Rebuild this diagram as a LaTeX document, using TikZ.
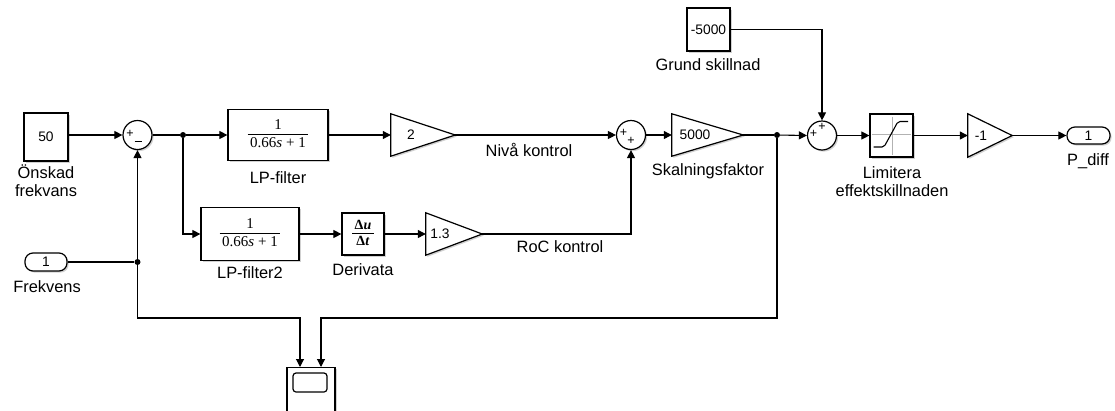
\documentclass[tikz,border=0pt]{standalone}
\usepackage{fontspec}
\setmainfont{Liberation Sans}
\newfontfamily\serf{Liberation Serif}
\usetikzlibrary{arrows.meta,shadows}
\newcommand{\tffrac}[2]{{\serf\fontsize{15}{17}\selectfont\begin{tabular}{@{\,}c@{\,}}#1\\[-1pt]\hline\rule{0pt}{13pt}#2\end{tabular}}}
\begin{document}
\begin{tikzpicture}[x=1pt,y=-1pt,
  shad/.style={drop shadow={shadow xshift=1.6pt,shadow yshift=-1.6pt,opacity=0.3,fill=black!60}},
  blk/.style={draw,line width=1.2pt,fill=white,shad,inner sep=0pt,font=\fontsize{13.8}{15}\selectfont},
  gainbox/.style={draw=none,inner sep=0pt,minimum width=#1},
  gtxt/.style={inner sep=0pt,font=\fontsize{13.8}{15}\selectfont},
  lbl/.style={font=\fontsize{16.4}{18.5}\selectfont,align=center,inner sep=0pt},
  sumc/.style={draw,circle,line width=1.2pt,fill=white,shad,minimum size=29pt,inner sep=0pt},
  sgn/.style={inner sep=0pt,font=\fontsize{12.5}{12}\selectfont},
  wire/.style={line width=1.1pt},
  arr/.style={wire,-{Triangle[length=8pt,width=8pt]}},
  dot/.style={circle,fill,inner sep=0pt,minimum size=6pt},
  port/.style={draw,line width=1.2pt,fill=white,shad,rounded corners=8pt,inner sep=0pt,font=\fontsize{13.8}{15}\selectfont}]
\useasboundingbox (0,0) rectangle (1115,410);

% ---------- blocks ----------
\node[blk,minimum width=44pt,minimum height=48pt] (c50) at (46,137) {50};
\node[lbl] (lc50) at (46,180.5) {Önskad\\frekvans};

\node[sumc] (s1) at (137.5,135) {};
\node[sgn] (s1p) at (130,134) {+};
\draw[line width=1pt] (s1.center) ++(-3,6.5) -- ++(7,0);

\node[dot] (j1) at (183,135) {};

\node[blk,minimum width=100pt,minimum height=51pt] (lp1) at (278,135) {\tffrac{1}{0.66\textit{s} + 1}};
\node[lbl] (llp1) at (278,178) {LP-filter};

\node[gainbox=64pt,minimum height=42pt] (g2) at (423,135) {};
\draw[blk] (g2.north west) -- (g2.east) -- (g2.south west) -- cycle;
\node[gtxt] (g2t) at (411,135) {2};
\node[lbl] (lniva) at (529,150) {Nivå kontrol};

\node[sumc] (s2) at (631,135) {};
\node[sgn] (s2p1) at (623.5,132.5) {+};
\node[sgn] (s2p2) at (631,140.5) {+};

\node[gainbox=71pt,minimum height=42pt] (g5k) at (707.5,135) {};
\draw[blk] (g5k.north west) -- (g5k.east) -- (g5k.south west) -- cycle;
\node[gtxt] (g5kt) at (695,135) {5000};
\node[lbl] (lskal) at (708,171) {Skalningsfaktor};

\node[dot] (j2) at (777,135) {};

\node[blk,minimum width=43pt,minimum height=43pt] (cg) at (708.5,29.5) {-5000};
\node[lbl] (lcg) at (708,65) {Grund skillnad};

\node[sumc] (s3) at (822,135.5) {};
\node[sgn] (s3p1) at (813.5,133.5) {+};
\node[sgn] (s3p2) at (822,127) {+};

\node[blk,minimum width=43pt,minimum height=43pt] (sat) at (891.5,135.5) {};
\draw[black!30,line width=0.9pt] (872,134) -- (911,134);
\draw[black!30,line width=0.9pt] (892,116.5) -- (892,154.5);
\draw[line width=1.1pt,rounded corners=2pt] (873.5,147) -- (884,147) -- (898,121.5) -- (908,121.5);
\node[lbl] (lsat) at (892,181.5) {Limitera\\effektskillnaden};

\node[gainbox=44pt,minimum height=43pt] (gm1) at (990,135.5) {};
\draw[blk] (gm1.north west) -- (gm1.east) -- (gm1.south west) -- cycle;
\node[gtxt] (gm1t) at (981,135.5) {-1};

\node[port,minimum width=43pt,minimum height=17pt] (out) at (1088.5,135.5) {1};
\node[lbl] (lout) at (1088,161) {P\_diff};

\node[blk,minimum width=98pt,minimum height=53pt] (lp2) at (250,234) {\tffrac{1}{0.66\textit{s} + 1}};
\node[lbl] (llp2) at (250,273) {LP-filter2};

\node[blk,minimum width=42pt,minimum height=42pt] (der) at (363,234) {{\serf\bfseries\fontsize{14}{16}\selectfont\begin{tabular}{@{\,}c@{\,}}Δ\textit{u}\\[-1pt]\hline\rule{0pt}{12pt}Δ\textit{t}\end{tabular}}};
\node[lbl] (lder) at (363,270) {Derivata};

\node[gainbox=56pt,minimum height=42pt] (g13) at (454,234) {};
\draw[blk] (g13.north west) -- (g13.east) -- (g13.south west) -- cycle;
\node[gtxt] (g13t) at (440,234) {1.3};
\node[lbl] (lroc) at (560,247) {RoC kontrol};

\node[port,minimum width=42pt,minimum height=18pt] (in1) at (46,262) {1};
\node[lbl] (lin1) at (47,287) {Frekvens};

\node[dot] (j3) at (137.5,262) {};

\node[blk,minimum width=48pt,minimum height=50pt,anchor=north] (scope) at (311,367) {};
\node[draw,line width=1.2pt,rounded corners=3pt,minimum width=34pt,minimum height=19pt,inner sep=0pt] (scr) at (310,382.5) {};

% ---------- connectors ----------
\draw[arr] (c50.east |- s1.west) -- (s1.west);
\draw[wire] (s1.east) -- (j1);
\draw[arr] (j1) -- (lp1.west);
\draw[arr] (lp1.east) -- (g2.west);
\draw[arr] (g2.east) -- (s2.west);
\draw[arr] (s2.east) -- (g5k.west);
\draw[wire] (g5k.east) -- (j2);
\draw[arr] (j2) -- (s3.west);
\draw[arr] (s3.east) -- (sat.west);
\draw[arr] (sat.east) -- (gm1.west);
\draw[arr] (gm1.east) -- (out.west);
\draw[arr] (cg.east) -| (s3.north);
\draw[arr] (j1) |- (lp2.west);
\draw[arr] (lp2.east) -- (der.west);
\draw[arr] (der.east) -- (g13.west);
\draw[arr] (g13.east) -| (s2.south);
\draw[wire] (in1.east) -- (j3);
\draw[arr] (j3) -- (s1.south);
\draw[arr] (j3) -- ++(0,56) -| ([xshift=-11pt]scope.north);
\draw[arr] (j2) -- ++(0,183) -| ([xshift=10pt]scope.north);
\end{tikzpicture}
\end{document}
